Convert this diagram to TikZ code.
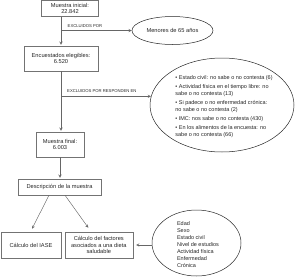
\documentclass[tikz,border=0pt]{standalone}
\usepackage{fontspec}
\setmainfont{Liberation Sans}
\usetikzlibrary{shapes.geometric}
\begin{document}
\begin{tikzpicture}[
      x=1pt, y=-1pt,
      box/.style={draw=black!55,line width=0.5pt,align=center,inner sep=0pt,
                  text=black!85,font=\fontsize{5.7}{6.8}\selectfont},
      oval/.style={draw=black!85,line width=0.5pt,ellipse,inner sep=0pt,
                  text=black!85,font=\fontsize{5.7}{6.8}\selectfont},
      txt/.style={align=left,inner sep=0pt,text=black!85,
                  font=\fontsize{5.5}{7.3}\selectfont},
      tag/.style={inner sep=0pt,text=black!85,font=\fontsize{4.2}{5}\selectfont},
      arr/.style={->,>=stealth,draw=black!60,line width=0.45pt}
    ]
    \useasboundingbox (0,0) rectangle (300,279);
    % Sample flow
    \node[box, minimum width=57pt, minimum height=16pt] (ini)  at (70,8.5)    {Muestra inicial:\\22.842};
    \node[box, minimum width=74pt, minimum height=25pt] (eleg) at (61,58.5)   {Encuestados elegibles:\\6.520};
    \node[box, minimum width=48pt, minimum height=25pt] (fin)  at (60,144.5)  {Muestra final:\\6.003};
    \node[box, minimum width=83pt, minimum height=16pt] (desc) at (59.5,187)  {Descripción de la muestra};
    \node[box, minimum width=60pt, minimum height=26pt] (iase) at (31,245)    {Cálculo del IASE};
    \node[box, minimum width=68pt, minimum height=26pt] (fact) at (98.8,245)  {Cálculo del factores\\asociados a una dieta\\saludable};
    % Exclusions and variables
    \node[oval, minimum width=81pt, minimum height=28pt] (menor) at (172.5,30.5) {Menores de 65 años};
    \node[oval, minimum width=144pt, minimum height=94pt] (resp) at (222,105) {};
    \node[txt] (resptxt) at (224,106.5) {\textbullet\ Estado civil: no sabe o no contesta (6)\\[1.5pt]
      \textbullet\ Actividad física en el tiempo libre: no\\sabe o no contesta (13)\\[1.5pt]
      \textbullet\ Si padece o no enfermedad crónica:\\no sabe o no contesta (2)\\[1.5pt]
      \textbullet\ IMC: nos sabe o no contesta (430)\\[1.5pt]
      \textbullet\ En los alimentos de la encuesta: no\\sabe o no contesta (66)};
    \node[oval, minimum width=89pt, minimum height=66pt] (vars) at (196.5,243) {};
    \node[txt, font=\fontsize{5.5}{7.1}\selectfont] (varstxt) at (198,244.5)
      {Edad\\Sexo\\Estado civil\\Nivel de estudios\\Actividad física\\Enfermedad\\Crónica};
    % Labels
    \node[tag, anchor=base west] (excl1) at (67.5,27)   {EXCLUIDOS POR};
    \node[tag, anchor=base west] (excl2) at (67,92.5)   {EXCLUIDOS POR RESPONDEN EN};
    % Arrows
    \draw[arr] (ini.south -| eleg.north) -- ([yshift=1pt]eleg.north);
    \draw[arr] (menor.west -| eleg.north) -- (menor.west);
    \draw[arr] (resp.173.5 -| eleg.south) -- (resp.173.5);
    \draw[arr] (eleg.south) -- ([yshift=1pt]eleg.south |- fin.north);
    \draw[arr] (fin.south) -- ([yshift=1pt]fin.south |- desc.north);
    \draw[arr] ([xshift=-10.5pt]desc.south) -- ([xshift=1pt,yshift=3pt]iase.north);
    \draw[arr] ([xshift=5.5pt]desc.south) -- ([xshift=-10.5pt,yshift=4pt]fact.north);
    \draw[arr] (vars.west |- fact.east) -- ([xshift=3pt]fact.east);
\end{tikzpicture}
\end{document}
